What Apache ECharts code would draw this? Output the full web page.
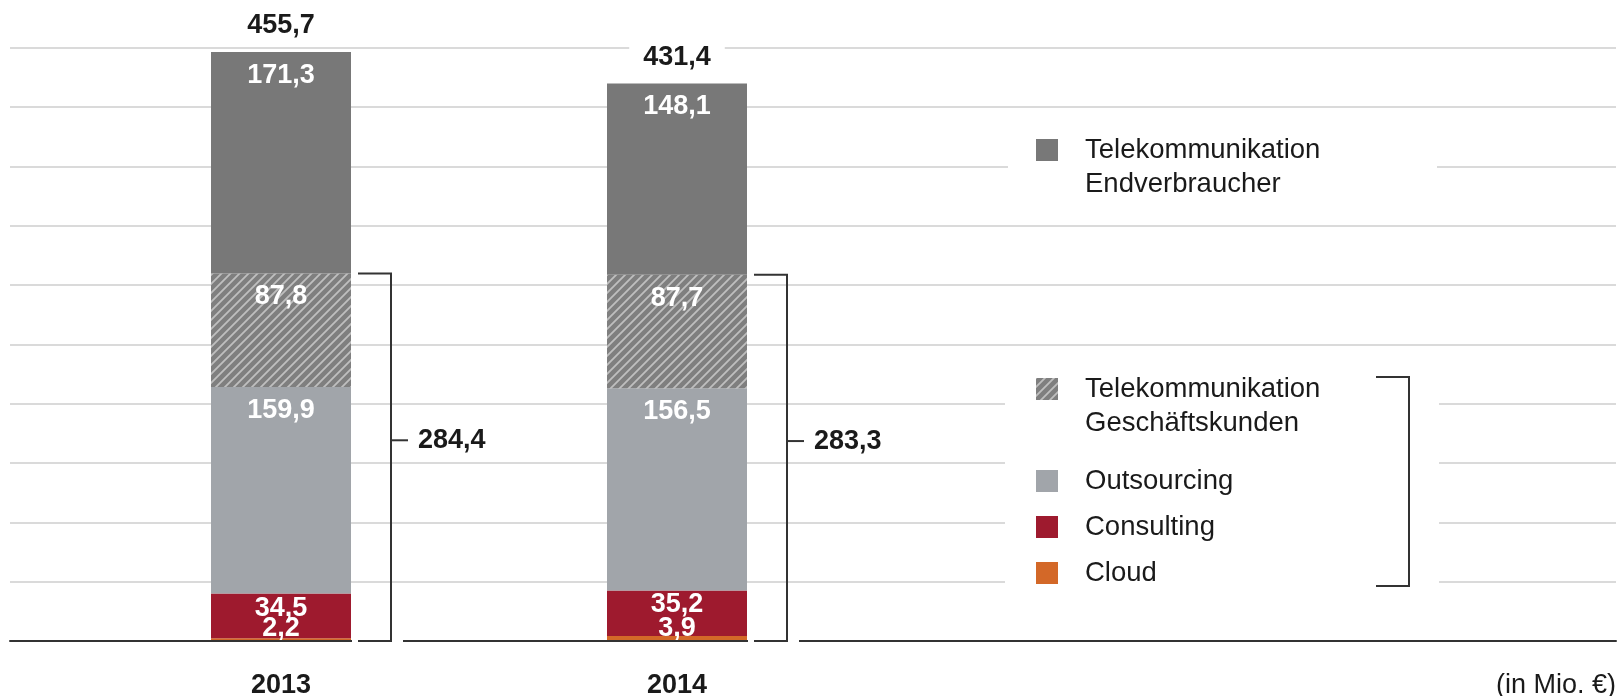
<!DOCTYPE html>
<html>
<head>
<meta charset="utf-8">
<script src="https://cdn.jsdelivr.net/npm/echarts@6/dist/echarts.min.js"></script>
<style>
  html, body { margin: 0; padding: 0; background: #fff; }
  #chart { width: 1621px; height: 696px; }
</style>
</head>
<body>
<div id="chart"></div>
<script>
const years = ['2013', '2014']
const cloud = [2.2, 3.9]
const consulting = [34.5, 35.2]
const outsourcing = [159.9, 156.5]
const geschaeftskunden = [87.8, 87.7]
const endverbraucher = [171.3, 148.1]
const totals = [455.7, 431.4]
const bracketTotals = [284.4, 283.3]

const FONT = '"Liberation Sans", Arial, sans-serif'
const DARK = '#1a1a1a'
const BAR_W = 140
const fmt = v => Number(v).toFixed(1).replace('.', ',')

// hatch pattern for Geschäftskunden
const hatch = document.createElement('canvas')
hatch.width = hatch.height = 9
const ctx = hatch.getContext('2d')
ctx.fillStyle = '#7f7f7f'
ctx.fillRect(0, 0, 9, 9)
ctx.strokeStyle = 'rgba(255,255,255,0.5)'
ctx.lineWidth = 1.8
ctx.beginPath()
ctx.moveTo(-1, 10); ctx.lineTo(10, -1)
ctx.moveTo(-1, 1); ctx.lineTo(1, -1)
ctx.moveTo(8, 10); ctx.lineTo(10, 8)
ctx.stroke()

const innerLabel = (position, distance) => ({
  show: true, position, distance,
  color: '#fff', fontFamily: FONT, fontWeight: 'bold', fontSize: 27, lineHeight: 27,
  formatter: p => fmt(p.value),
})

function barSeries(name, data, color, label) {
  return {
    name, type: 'bar', stack: 'umsatz', data,
    xAxisIndex: 1, yAxisIndex: 1,
    barWidth: BAR_W, barGap: '-100%',
    itemStyle: { color },
    label,
  }
}

// two-line names get an empty first line so the square sits next to line one
function legendItem(name, top, twoLines) {
  return {
    data: [name], left: 1036, top, orient: 'vertical', selectedMode: false,
    icon: 'rect', itemWidth: 22, itemHeight: 22, padding: 0,
    formatter: twoLines ? n => '\n' + n : n => n,
    textStyle: {
      fontFamily: FONT, fontSize: 27.5, color: DARK, lineHeight: 34,
      padding: [0, 0, 0, 22],
    },
  }
}

const NAME_END = 'Telekommunikation\nEndverbraucher'
const NAME_GK = 'Telekommunikation\nGeschäftskunden'

const chart = echarts.init(document.getElementById('chart'))

const option = {
  animation: false,
  title: {
    text: '(in Mio. €)', right: 5, top: 672, padding: 0,
    textStyle: { fontFamily: FONT, fontSize: 27, fontWeight: 'normal', color: DARK, lineHeight: 27 },
  },
  legend: [
    legendItem(NAME_END, 99, true),
    legendItem(NAME_GK, 338, true),
    legendItem('Outsourcing', 464, false),
    legendItem('Consulting', 510, false),
    legendItem('Cloud', 556, false),
  ],
  grid: [
    { left: 10, right: 5, top: 47.7, bottom: 55, outerBoundsMode: 'none' },
    { left: 83, width: 792, top: 47.7, bottom: 55, outerBoundsMode: 'none' },
  ],
  xAxis: [
    {
      type: 'value', gridIndex: 0, min: 0, max: 1, z: 3,
      axisLine: { show: true, lineStyle: { color: '#333', width: 2 } },
      axisTick: { show: false }, axisLabel: { show: false }, splitLine: { show: false },
    },
    {
      type: 'category', gridIndex: 1, data: years,
      axisLine: { show: false }, axisTick: { show: false },
      axisLabel: { margin: 31, fontFamily: FONT, fontWeight: 'bold', fontSize: 27, lineHeight: 27, color: DARK },
    },
  ],
  yAxis: [
    {
      type: 'value', gridIndex: 0, min: 0, max: 459, interval: 45.9,
      axisLine: { show: false }, axisTick: { show: false }, axisLabel: { show: false },
      splitLine: { show: true, lineStyle: { color: '#dadada', width: 2 } },
    },
    {
      type: 'value', gridIndex: 1, min: 0, max: 459, interval: 45.9, show: false,
      splitLine: { show: false },
    },
  ],
  graphic: [
    { type: 'rect', z: 1, shape: { x: 1008, y: 118, width: 429, height: 92 }, style: { fill: '#fff' } },
    { type: 'rect', z: 1, shape: { x: 1005, y: 352, width: 434, height: 244 }, style: { fill: '#fff' } },
    {
      type: 'polyline', z: 5,
      shape: { points: [[1376, 377], [1409, 377], [1409, 586], [1376, 586]] },
      style: { stroke: '#333', lineWidth: 2, fill: null },
    },
  ],
  series: [
    barSeries('Cloud', cloud, '#d36828', innerLabel('insideBottom', -1)),
    barSeries('Consulting', consulting, '#9e1a2e', innerLabel('insideTop', 1)),
    barSeries('Outsourcing', outsourcing, '#a1a5aa', innerLabel('insideTop', 10)),
    barSeries(NAME_GK, geschaeftskunden, { image: hatch, repeat: 'repeat' }, innerLabel('insideTop', 10)),
    barSeries(NAME_END, endverbraucher, '#787878', innerLabel('insideTop', 10)),
    {
      name: 'Gesamt', type: 'bar', data: totals,
      xAxisIndex: 1, yAxisIndex: 1, barWidth: BAR_W, barGap: '-100%', silent: true,
      itemStyle: { color: 'rgba(0,0,0,0)' },
      label: {
        show: true, position: 'top', distance: 10.5,
        color: DARK, fontFamily: FONT, fontWeight: 'bold', fontSize: 27, lineHeight: 27,
        backgroundColor: '#fff', padding: [2, 14],
        formatter: p => fmt(p.value),
      },
    },
    {
      name: 'Klammer', type: 'custom', xAxisIndex: 1, yAxisIndex: 1, z: 4, silent: true,
      data: bracketTotals.map((v, i) => [i, v]),
      renderItem: (params, api) => {
        const v = api.value(1)
        const top = api.coord([api.value(0), v])
        const base = api.coord([api.value(0), 0])
        const mid = api.coord([api.value(0), v * 0.546])
        const xBar = top[0] + BAR_W / 2
        const xl = xBar + 7
        const xr = xBar + 40
        const stroke = { stroke: '#333', lineWidth: 2, fill: null }
        return {
          type: 'group',
          children: [
            { type: 'line', shape: { x1: xBar + 1, y1: base[1], x2: xr + 12, y2: base[1] }, style: { stroke: '#fff', lineWidth: 6 } },
            { type: 'polyline', shape: { points: [[xl, top[1]], [xr, top[1]], [xr, base[1]], [xl, base[1]]] }, style: stroke },
            { type: 'line', shape: { x1: xr, y1: mid[1], x2: xr + 17, y2: mid[1] }, style: stroke },
            {
              type: 'text', x: xr + 27, y: mid[1],
              style: { text: fmt(v), fill: DARK, font: 'bold 27px ' + FONT, verticalAlign: 'middle', align: 'left' },
            },
          ],
        }
      },
    },
  ],
}

chart.setOption(option)
</script>
</body>
</html>
